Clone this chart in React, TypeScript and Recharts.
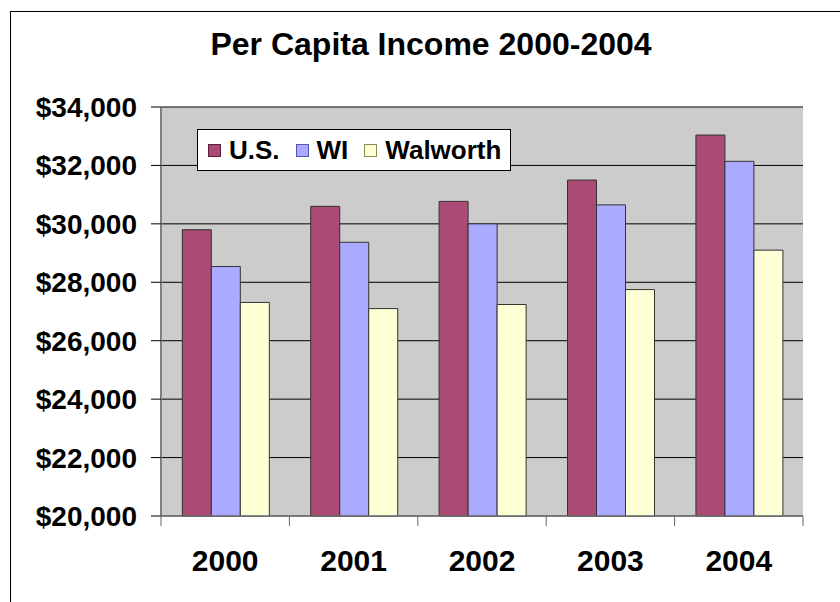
import React from "react";
import {
  BarChart,
  Bar,
  XAxis,
  YAxis,
  CartesianGrid,
  Legend,
} from "recharts";

const years = ["2000", "2001", "2002", "2003", "2004"];
const usIncome = [29800, 30600, 30770, 31500, 33040];
const wiIncome = [28540, 29370, 30000, 30650, 32140];
const walworthIncome = [27310, 27100, 27240, 27750, 29100];
const yTicks = [20000, 22000, 24000, 26000, 28000, 30000, 32000, 34000];

const series = [
  { key: "us", name: "U.S.", color: "#AA4A75", border: "#5A1F3B" },
  { key: "wi", name: "WI", color: "#AAAAFF", border: "#5555AA" },
  { key: "walworth", name: "Walworth", color: "#FFFFD5", border: "#8A8A55" },
];

const data = years.map((year, i) => ({
  year,
  us: usIncome[i],
  wi: wiIncome[i],
  walworth: walworthIncome[i],
}));

const FONT = "Arial, 'Liberation Sans', sans-serif";

const money = (v: number) => "$" + v.toLocaleString("en-US");

// year label plus the tick marks on the category boundaries
function YearTick(props: any) {
  const { x, y, payload, index } = props;
  const half = payload.offset || 0;
  const last = index === years.length - 1;
  return (
    <g>
      <line x1={x - half} x2={x - half} y1={y} y2={y + 10} stroke="#666" />
      {last && (
        <line x1={x + half} x2={x + half} y1={y} y2={y + 10} stroke="#666" />
      )}
      <text
        x={x}
        y={y + 55}
        textAnchor="middle"
        fontFamily={FONT}
        fontWeight="bold"
        fontSize={30}
        fill="#000"
      >
        {payload.value}
      </text>
    </g>
  );
}

function BoxLegend() {
  return (
    <div
      style={{
        width: 312,
        height: 40,
        background: "#fff",
        border: "1px solid #000",
        display: "flex",
        alignItems: "center",
        fontFamily: FONT,
        fontWeight: "bold",
        fontSize: 26,
        boxSizing: "content-box",
      }}
    >
      {series.map((s) => (
        <div
          key={s.key}
          style={{ display: "flex", alignItems: "center", marginLeft: 10 }}
        >
          <span
            style={{
              display: "inline-block",
              width: 11,
              height: 11,
              background: s.color,
              border: "1px solid " + s.border,
              marginRight: 8,
            }}
          />
          <span style={{ marginRight: 6 }}>{s.name}</span>
        </div>
      ))}
    </div>
  );
}

export default function App() {
  return (
    <div
      style={{
        position: "absolute",
        left: 0,
        top: 0,
        width: 840,
        height: 602,
        overflow: "hidden",
        background: "#fff",
      }}
    >
      <div
        style={{
          position: "absolute",
          left: 10,
          top: 11,
          width: 900,
          height: 700,
          borderLeft: "1px solid #000",
          borderTop: "1px solid #000",
        }}
      />
      <div
        style={{
          position: "absolute",
          left: 0,
          top: 24,
          width: 862,
          textAlign: "center",
          fontFamily: FONT,
          fontWeight: "bold",
          fontSize: 32,
          lineHeight: "40px",
        }}
      >
        Per Capita Income 2000-2004
      </div>
      <BarChart
        width={840}
        height={602}
        data={data}
        margin={{ top: 107, right: 37, bottom: 0, left: 0 }}
        barCategoryGap="16.6%"
        barGap={0}
        style={{ position: "absolute", left: 0, top: 0 }}
      >
        <CartesianGrid
          vertical={false}
          stroke="#000"
          fill="#CCCCCC"
          fillOpacity={1}
        />
        <XAxis
          dataKey="year"
          height={86}
          axisLine={{ stroke: "#808080" }}
          tickLine={false}
          tickSize={0}
          tickMargin={0}
          tick={<YearTick />}
          interval={0}
        />
        <YAxis
          width={161}
          domain={[20000, 34000]}
          ticks={yTicks}
          tickFormatter={money}
          tickSize={10}
          tickMargin={14}
          axisLine={{ stroke: "#808080", strokeWidth: 2 }}
          tickLine={{ stroke: "#000" }}
          tick={{
            fill: "#000",
            fontSize: 28,
            fontWeight: "bold",
            fontFamily: FONT,
          }}
          interval={0}
        />
        <Legend
          layout="vertical"
          align="center"
          verticalAlign="middle"
          content={<BoxLegend />}
          wrapperStyle={{ position: "absolute", left: 197, top: 129, width: "auto" }}
        />
        {series.map((s) => (
          <Bar
            key={s.key}
            dataKey={s.key}
            name={s.name}
            fill={s.color}
            stroke="#333"
            strokeWidth={1}
            isAnimationActive={false}
          />
        ))}
      </BarChart>
    </div>
  );
}
